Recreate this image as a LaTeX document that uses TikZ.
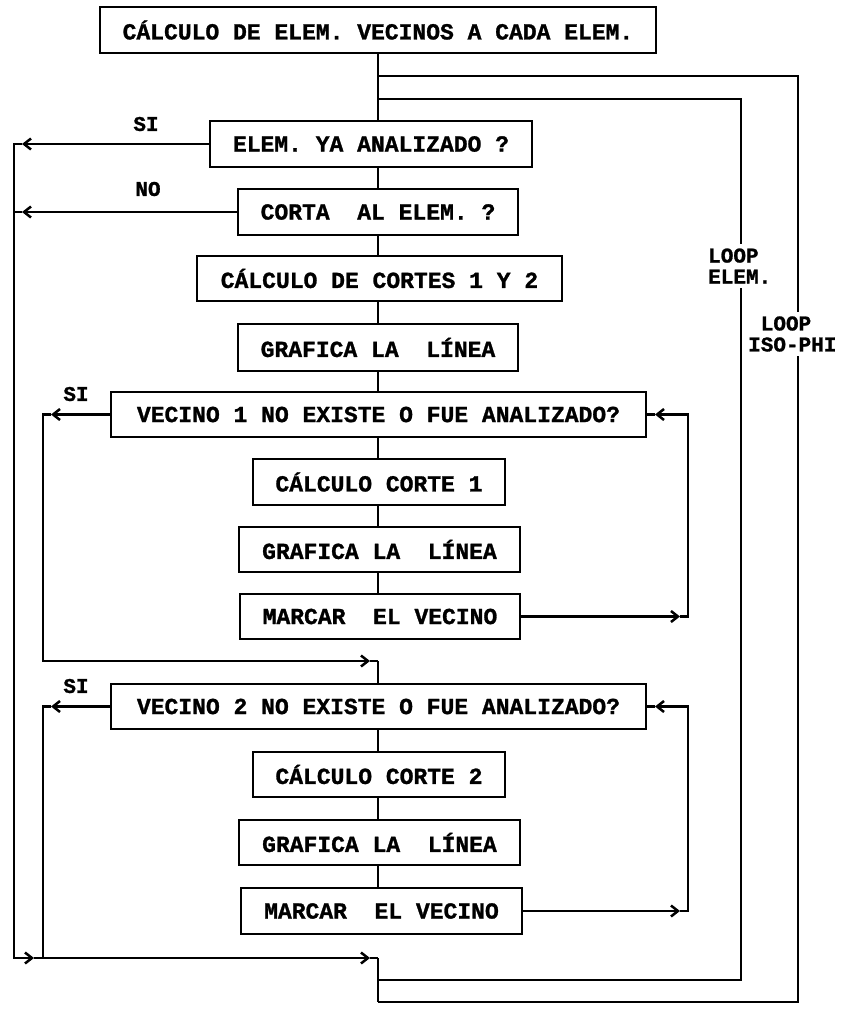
\documentclass[tikz,border=0pt]{standalone}
\usepackage{fontspec}
\setmainfont{Liberation Mono}[BoldFeatures={FakeBold=1.2}]
\usetikzlibrary{arrows.meta}
\begin{document}
\begin{tikzpicture}[x=1pt,y=-1pt,
  box/.style={draw, line width=2.7pt, inner sep=0pt, font=\bfseries\fontsize{23}{26}\selectfont},
  conn/.style={line width=2.5pt},
  chev/.tip={Straight Barb[length=7pt,width=11pt]},
  lbl/.style={font=\bfseries\fontsize{21}{21}\selectfont, inner sep=0pt, align=left}]
\useasboundingbox (0,0) rectangle (844,1010);

% boxes
\node[box, minimum width=556pt, minimum height=46pt] (T)  at (378,30)    {CÁLCULO DE ELEM. VECINOS A CADA ELEM.};
\node[box, minimum width=322pt, minimum height=46pt] (B1) at (371,144)   {ELEM. YA ANALIZADO ?};
\node[box, minimum width=280pt, minimum height=46pt] (B2) at (378,212)   {CORTA~~AL ELEM. ?};
\node[box, minimum width=365pt, minimum height=45pt] (B3) at (379.5,278.5) {CÁLCULO DE CORTES 1 Y 2};
\node[box, minimum width=280pt, minimum height=47pt] (B4) at (378,347.5) {GRAFICA LA~~LÍNEA};
\node[box, minimum width=535pt, minimum height=45pt] (V1) at (378.5,414.5) {VECINO 1 NO EXISTE O FUE ANALIZADO?};
\node[box, minimum width=252pt, minimum height=46pt] (C1) at (379,482)   {CÁLCULO CORTE 1};
\node[box, minimum width=281pt, minimum height=45pt] (G1) at (379.5,549.5) {GRAFICA LA~~LÍNEA};
\node[box, minimum width=280pt, minimum height=45pt] (M1) at (380,616.5) {MARCAR~~EL VECINO};
\node[box, minimum width=535pt, minimum height=45pt] (V2) at (378.5,706.5) {VECINO 2 NO EXISTE O FUE ANALIZADO?};
\node[box, minimum width=252pt, minimum height=45pt] (C2) at (379,774.5) {CÁLCULO CORTE 2};
\node[box, minimum width=281pt, minimum height=45pt] (G2) at (379.5,842.5) {GRAFICA LA~~LÍNEA};
\node[box, minimum width=281pt, minimum height=46pt] (M2) at (381.5,911) {MARCAR~~EL VECINO};

% labels
\node[lbl] (si1) at (146,124) {SI};
\node[lbl] (no)  at (148,189) {NO};
\node[lbl] (si2) at (76,394) {SI};
\node[lbl] (si3) at (76,686) {SI};

% coordinates
\coordinate (cA) at (378,76);
\coordinate (cB) at (378,99);
\coordinate (isoT) at (798,76);
\coordinate (isoB) at (798,1002);
\coordinate (elT) at (741,99);
\coordinate (elB) at (741,980);
\coordinate (cE) at (378,980);
\coordinate (cI) at (378,1002);
\coordinate (si1tip) at (22,144);
\coordinate (si1c) at (14,144);
\coordinate (notip) at (22,212);
\coordinate (noc) at (14,212);
\coordinate (blc) at (14,958);
\coordinate (bltip) at (34,958);
\coordinate (j2tip) at (370,958);
\coordinate (j2c) at (378,958);
\coordinate (si2tip) at (51,414.5);
\coordinate (si2c) at (43,414.5);
\coordinate (ilc1) at (43,661);
\coordinate (j1tip) at (370,661);
\coordinate (j1c) at (378,661);
\coordinate (si3tip) at (51,706.5);
\coordinate (si3c) at (43,706.5);
\coordinate (ilc2) at (43,958);
\coordinate (r1tip) at (680,616.5);
\coordinate (r1c) at (688,616.5);
\coordinate (r1u) at (688,414.5);
\coordinate (v1tip) at (655,414.5);
\coordinate (r2tip) at (680,911);
\coordinate (r2c) at (688,911);
\coordinate (r2u) at (688,706.5);
\coordinate (v2tip) at (655,706.5);

% main spine
\draw[conn] (T.south) -- (T.south |- B1.north);
\draw[conn] (B1.south -| T.south) -- (B2.north);
\draw[conn] (B2.south) -- (B2.south |- B3.north);
\draw[conn] (B3.south -| B2.south) -- (B4.north);
\draw[conn] (B4.south) -- (B4.south |- V1.north);
\draw[conn] (V1.south -| B4.south) -- (B4.south |- C1.north);
\draw[conn] (C1.south -| B4.south) -- (B4.south |- G1.north);
\draw[conn] (G1.south -| B4.south) -- (B4.south |- M1.north);
\draw[conn] (j1c) -- (j1c |- V2.north);
\draw[conn] (V2.south -| B4.south) -- (B4.south |- C2.north);
\draw[conn] (C2.south -| B4.south) -- (B4.south |- G2.north);
\draw[conn] (G2.south -| B4.south) -- (B4.south |- M2.north);
\draw[conn] (j2c) -- (cI);

% loops
\draw[conn] (cA) -- (isoT) -- (isoB) -- (cI);
\draw[conn] (cB) -- (elT) -- (elB) -- (cE);

% left branches
\draw[conn,-{chev}] (B1.west) -- (si1tip);
\draw[conn,-{chev}] (si1tip) -- (si1c) -- (blc) -- (bltip);
\draw[conn,-{chev}] (bltip) -- (j2tip);
\draw[conn] (j2tip) -- (j2c);
\draw[conn,-{chev}] (B2.west) -- (notip);
\draw[conn] (notip) -- (noc);
\draw[conn,-{chev}] (V1.west) -- (si2tip);
\draw[conn,-{chev}] (si2tip) -- (si2c) -- (ilc1) -- (j1tip);
\draw[conn] (j1tip) -- (j1c);
\draw[conn,-{chev}] (V2.west) -- (si3tip);
\draw[conn] (si3tip) -- (si3c) -- (ilc2);

% right returns
\draw[conn,-{chev}] (M1.east) -- (r1tip);
\draw[conn,-{chev}] (r1tip) -- (r1c) -- (r1u) -- (v1tip);
\draw[conn] (v1tip) -- (V1.east);
\draw[conn,-{chev}] (M2.east) -- (r2tip);
\draw[conn,-{chev}] (r2tip) -- (r2c) -- (r2u) -- (v2tip);
\draw[conn] (v2tip) -- (V2.east);

% loop labels
\node[lbl, anchor=west, fill=white, inner ysep=4pt] (lel) at (708,266) {LOOP\\ELEM.};
\node[lbl, anchor=west, fill=white, inner ysep=4pt] (lis) at (748,334) {~LOOP\\ISO-PHI};
\end{tikzpicture}
\end{document}
